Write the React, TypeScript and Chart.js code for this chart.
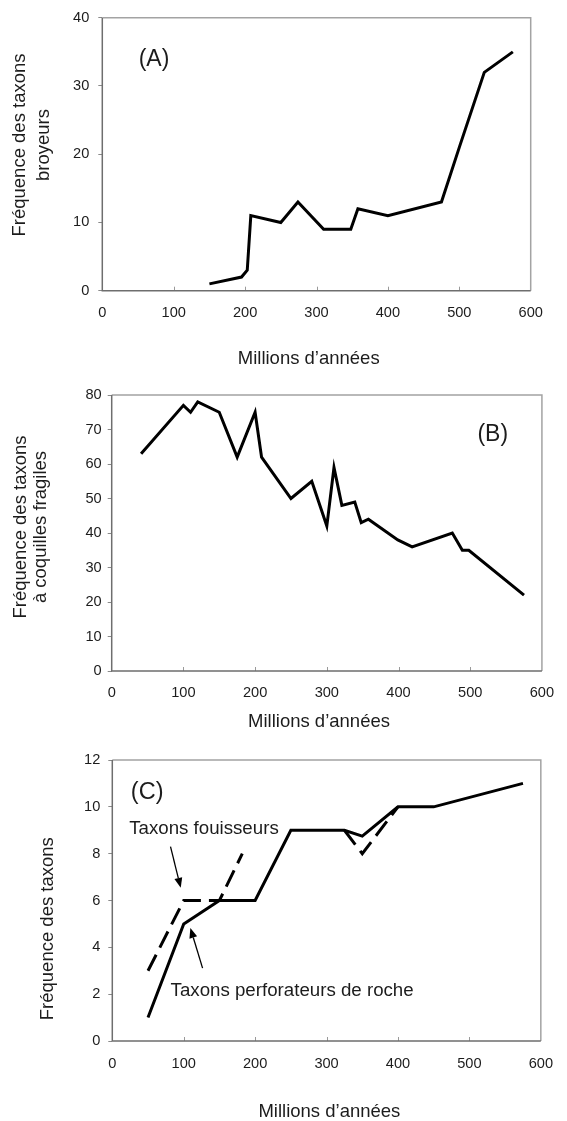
import React, { useEffect, useRef } from "react";
import { Chart, registerables } from "chart.js";

Chart.register(...registerables);

// ---------- DATA ----------
const xTickValues = [0, 100, 200, 300, 400, 500, 600];

// (A) Fréquence des taxons broyeurs
const agesA = [150, 195, 203, 208, 250, 274, 310, 348, 358, 400, 475, 500, 535, 575];
const broyeurs = [1, 2, 3, 11, 10, 13, 9, 9, 12, 11, 13, 21, 32, 35];
const yTicksA = [0, 10, 20, 30, 40];

// (B) Fréquence des taxons à coquilles fragiles
const agesB = [41, 100, 110, 120, 150, 175, 200, 209, 250, 279, 300, 310, 321, 339, 348, 358, 399, 419, 475, 489, 498, 575];
const fragiles = [63, 77, 75, 78, 75, 62, 75, 62, 50, 55, 42, 59, 48, 49, 43, 44, 38, 36, 40, 35, 35, 22];
const yTicksB = [0, 10, 20, 30, 40, 50, 60, 70, 80];

// (C) Taxons perforateurs de roche (solid) and Taxons fouisseurs (dashed)
const agesPerf = [50, 100, 150, 200, 250, 325, 350, 400, 450, 575];
const perforateurs = [1, 5, 6, 6, 9, 9, 8.75, 10, 10, 11];
const agesFou = [50, 100, 150, 182, 250, 325, 350, 400];
const fouisseurs = [3, 6, 6, 8, null, 9, 8, 10];
const yTicksC = [0, 2, 4, 6, 8, 10, 12];

const xTitle = "Millions d’années";
const FONT = "'Liberation Sans', Arial, Helvetica, sans-serif";
const TEXT = "#1c1c1c";

type DS = { x: number[]; y: (number | null)[]; dash?: boolean };
type Label = { text: string; x: number; y: number; size: number };
type Arrow = { x1: number; y1: number; x2: number; y2: number };
type Panel = {
  top: number;
  height: number;
  area: { left: number; right: number; top: number; bottom: number };
  yTicks: number[];
  datasets: DS[];
  yTitle: string[];
  yTitleX: number[];
  yTitleY: number;
  xTitleX: number;
  xTitleY: number;
  labels: Label[];
  arrows: Arrow[];
  xPad: number;
  yPad: number;
};

const panels: Panel[] = [
  {
    top: 0,
    height: 375,
    area: { left: 102.3, right: 530.7, top: 17.3, bottom: 290.7 },
    yTicks: yTicksA,
    datasets: [{ x: agesA, y: broyeurs }],
    yTitle: ["Fréquence des taxons", "broyeurs"],
    yTitleX: [19.7, 44],
    yTitleY: 145,
    xTitleX: 308.7,
    xTitleY: 359,
    labels: [{ text: "(A)", x: 51, y: 33.8, size: 23 }],
    arrows: [],
    xPad: 13.8,
    yPad: 9,
  },
  {
    top: 375,
    height: 365,
    area: { left: 111.7, right: 544.5, top: 395, bottom: 671 },
    yTicks: yTicksB,
    datasets: [{ x: agesB, y: fragiles }],
    yTitle: ["Fréquence des taxons", "à coquilles fragiles"],
    yTitleX: [20.5, 41],
    yTitleY: 527,
    xTitleX: 319,
    xTitleY: 721.7,
    labels: [{ text: "(B)", x: 510, y: 68.4, size: 23 }],
    arrows: [],
    xPad: 12.9,
    yPad: 6,
  },
  {
    top: 740,
    height: 381,
    area: { left: 112.3, right: 557, top: 760, bottom: 1041 },
    yTicks: yTicksC,
    datasets: [
      { x: agesPerf, y: perforateurs },
      { x: agesFou, y: fouisseurs, dash: true },
    ],
    yTitle: ["Fréquence des taxons"],
    yTitleX: [47.8],
    yTitleY: 928.7,
    xTitleX: 329.4,
    xTitleY: 1112,
    labels: [
      { text: "(C)", x: 26, y: 10.6, size: 23.5 },
      { text: "Taxons fouisseurs", x: 23.6, y: 9.07, size: 18.7 },
      { text: "Taxons perforateurs de roche", x: 81.6, y: 2.16, size: 18.7 },
    ],
    arrows: [
      { x1: 81.5, y1: 8.3, x2: 95.8, y2: 6.54 },
      { x1: 126.4, y1: 3.11, x2: 109.3, y2: 4.83 },
    ],
    xPad: 14,
    yPad: 8,
  },
];

const X_H = 30;

function PanelChart({ p }: { p: Panel }) {
  const ref = useRef<HTMLCanvasElement>(null);
  useEffect(() => {
    const canvas = ref.current!;
    const a = p.area;
    const decor = {
      id: "decor",
      beforeDatasetsDraw(chart: any) {
        const ctx = chart.ctx;
        const ca = chart.chartArea;
        const xs = chart.scales.x;
        ctx.save();
        // inward x tick marks
        ctx.strokeStyle = "#9a9a9a";
        ctx.lineWidth = 1;
        xTickValues.forEach((v) => {
          if (v === 0 || v === 600) return;
          const px = Math.round(xs.getPixelForValue(v)) + 0.5;
          ctx.beginPath();
          ctx.moveTo(px, ca.bottom);
          ctx.lineTo(px, ca.bottom - 4);
          ctx.stroke();
        });
        // frame
        ctx.lineWidth = 1.5;
        ctx.strokeStyle = "#a3a3a3";
        ctx.beginPath();
        ctx.moveTo(ca.left, ca.top);
        ctx.lineTo(ca.right, ca.top);
        ctx.lineTo(ca.right, ca.bottom);
        ctx.stroke();
        ctx.strokeStyle = "#6e6e6e";
        ctx.beginPath();
        ctx.moveTo(ca.left, ca.top);
        ctx.lineTo(ca.left, ca.bottom);
        ctx.lineTo(ca.right, ca.bottom);
        ctx.stroke();
        ctx.restore();
      },
      afterDraw(chart: any) {
        const ctx = chart.ctx;
        const xs = chart.scales.x;
        const ys = chart.scales.y;
        ctx.save();
        ctx.fillStyle = TEXT;
        ctx.strokeStyle = "#000";
        // annotations
        p.labels.forEach((l) => {
          ctx.font = `${l.size}px ${FONT}`;
          ctx.textAlign = "left";
          ctx.textBaseline = "middle";
          ctx.fillText(l.text, xs.getPixelForValue(l.x), ys.getPixelForValue(l.y));
        });
        // arrows
        p.arrows.forEach((ar) => {
          const x1 = xs.getPixelForValue(ar.x1);
          const y1 = ys.getPixelForValue(ar.y1);
          const x2 = xs.getPixelForValue(ar.x2);
          const y2 = ys.getPixelForValue(ar.y2);
          const ang = Math.atan2(y2 - y1, x2 - x1);
          const hl = 10;
          const hw = 4;
          const bx = x2 - hl * Math.cos(ang);
          const by = y2 - hl * Math.sin(ang);
          ctx.lineWidth = 1.3;
          ctx.beginPath();
          ctx.moveTo(x1, y1);
          ctx.lineTo(bx, by);
          ctx.stroke();
          ctx.fillStyle = "#000";
          ctx.beginPath();
          ctx.moveTo(x2, y2);
          ctx.lineTo(bx + hw * Math.sin(ang), by - hw * Math.cos(ang));
          ctx.lineTo(bx - hw * Math.sin(ang), by + hw * Math.cos(ang));
          ctx.closePath();
          ctx.fill();
        });
        // axis titles
        ctx.fillStyle = TEXT;
        ctx.font = `18.5px ${FONT}`;
        ctx.textAlign = "center";
        ctx.textBaseline = "middle";
        ctx.fillText(xTitle, p.xTitleX, p.xTitleY - p.top);
        p.yTitle.forEach((line, i) => {
          ctx.save();
          ctx.translate(p.yTitleX[i], p.yTitleY - p.top);
          ctx.rotate(-Math.PI / 2);
          ctx.fillText(line, 0, 0);
          ctx.restore();
        });
        ctx.restore();
      },
    };

    const chart = new Chart(canvas, {
      type: "line",
      data: {
        datasets: p.datasets.map((d) => ({
          data: d.x.map((x, i) => ({ x, y: d.y[i] })),
          borderColor: "#000",
          borderWidth: 3,
          borderDash: d.dash ? [18, 8] : [],
          borderJoinStyle: "miter",
          pointRadius: 0,
          tension: 0,
          fill: false,
          spanGaps: false,
        })),
      },
      options: {
        responsive: false,
        animation: false,
        devicePixelRatio: 1,
        events: [],
        layout: {
          padding: {
            left: 0,
            top: a.top - p.top,
            right: 567 - a.right,
            bottom: p.top + p.height - a.bottom - X_H,
          },
        },
        plugins: { legend: { display: false }, tooltip: { enabled: false }, title: { display: false } },
        scales: {
          x: {
            type: "linear",
            min: 0,
            max: 600,
            afterFit: (s: any) => {
              s.height = X_H;
            },
            afterBuildTicks: (s: any) => {
              s.ticks = xTickValues.map((v) => ({ value: v }));
            },
            grid: { display: false, drawTicks: false },
            border: { display: false },
            ticks: {
              autoSkip: false,
              maxRotation: 0,
              padding: p.xPad,
              color: TEXT,
              font: { family: FONT, size: 14.6 },
            },
          },
          y: {
            type: "linear",
            min: 0,
            max: p.yTicks[p.yTicks.length - 1],
            afterFit: (s: any) => {
              s.width = a.left;
            },
            afterBuildTicks: (s: any) => {
              s.ticks = p.yTicks.map((v) => ({ value: v }));
            },
            grid: { drawOnChartArea: false, drawTicks: true, tickLength: 4, color: "#8a8a8a", lineWidth: 1 },
            border: { display: false },
            ticks: {
              autoSkip: false,
              padding: p.yPad,
              color: TEXT,
              font: { family: FONT, size: 14.6 },
            },
          },
        },
      },
      plugins: [decor],
    } as any);
    return () => chart.destroy();
  }, [p]);
  return (
    <canvas
      ref={ref}
      width={567}
      height={p.height}
      style={{ position: "absolute", left: 0, top: p.top, width: 567, height: p.height }}
    />
  );
}

export default function App() {
  return (
    <div style={{ position: "absolute", left: 0, top: 0, width: 567, height: 1121, background: "#fff", overflow: "hidden" }}>
      {panels.map((p, i) => (
        <PanelChart key={i} p={p} />
      ))}
    </div>
  );
}
